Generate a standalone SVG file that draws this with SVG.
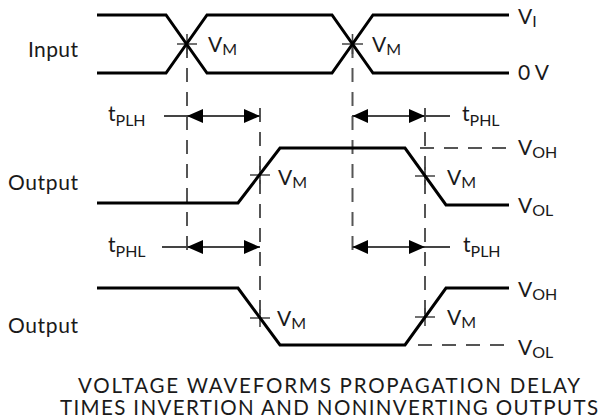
<svg xmlns="http://www.w3.org/2000/svg" width="601" height="420" viewBox="0 0 601 420">
<defs>
<style>
.w{fill:none;stroke:#000;stroke-width:3;stroke-linejoin:miter}
.d{fill:none;stroke:#555;stroke-width:2;stroke-dasharray:14 10}
.t{fill:none;stroke:#444;stroke-width:1.6}
.a{fill:none;stroke:#444;stroke-width:2}
.h{fill:#000}
text{font-family:Lato,"Liberation Sans",sans-serif;fill:#1a1a1a;font-size:21px}
.s{font-size:16px}
.cap{font-size:20.5px}
</style>
</defs>
<rect width="601" height="420" fill="#fff"/>
<g id="connectors">
<line class="d" x1="187" y1="44" x2="187" y2="258"/>
<line class="d" x1="352.5" y1="44" x2="352.5" y2="258"/>
<line class="d" x1="260" y1="108" x2="260" y2="318"/>
<line class="d" x1="425" y1="108" x2="425" y2="318"/>
<line class="d" x1="420" y1="148" x2="509" y2="148"/>
<line class="d" x1="418" y1="345" x2="509" y2="345"/>
<line class="a" x1="164" y1="116" x2="260" y2="116"/>
<line class="a" x1="352" y1="116" x2="450" y2="116"/>
<line class="a" x1="162" y1="247" x2="260" y2="247"/>
<line class="a" x1="352" y1="247" x2="450" y2="247"/>
<path class="h" d="M187,116 L203,109 L203,123 Z M260,116 L244,109 L244,123 Z"/>
<path class="h" d="M352.5,116 L368,109 L368,123 Z M425,116 L409,109 L409,123 Z"/>
<path class="h" d="M187,247 L203,240 L203,254 Z M260,247 L244,240 L244,254 Z"/>
<path class="h" d="M352.5,247 L368,240 L368,254 Z M425,247 L409,240 L409,254 Z"/>
<path class="t" d="M177,44 H197 M187,34 V54 M342,44 H363 M352.5,34 V54"/>
<path class="t" d="M250,175 H270 M260,166 V184 M415,176 H435 M425,167 V185"/>
<path class="t" d="M250,318 H270 M260,309 V327 M415,317 H435 M425,308 V326"/>
</g>
<g id="input">
<path class="w" d="M97,15 H166 L207,73 H332 L373,15 H509"/>
<path class="w" d="M97,73 H166 L207,15 H332 L373,73 H509"/>
<text x="28" y="57" textLength="50">Input</text>
<text x="208" y="52">V<tspan class="s" dy="3">M</tspan></text>
<text x="372" y="52">V<tspan class="s" dy="3">M</tspan></text>
<text x="518" y="24">V<tspan class="s" dy="3">I</tspan></text>
<text x="518" y="80">0 V</text>
</g>
<g id="output1">
<path class="w" d="M97,203 H238 L280,148 H405 L446,205 H509"/>
<text x="8" y="190" textLength="70">Output</text>
<text x="278" y="185">V<tspan class="s" dy="3">M</tspan></text>
<text x="447" y="185">V<tspan class="s" dy="3">M</tspan></text>
<text x="518" y="155">V<tspan class="s" dy="3">OH</tspan></text>
<text x="518" y="213">V<tspan class="s" dy="3">OL</tspan></text>
</g>
<g id="output2">
<path class="w" d="M97,288 H238 L280,345 H405 L446,288 H509"/>
<text x="8" y="333" textLength="70">Output</text>
<text x="277" y="326">V<tspan class="s" dy="3">M</tspan></text>
<text x="447" y="325">V<tspan class="s" dy="3">M</tspan></text>
<text x="518" y="297">V<tspan class="s" dy="3">OH</tspan></text>
<text x="518" y="355">V<tspan class="s" dy="3">OL</tspan></text>
</g>
<g id="timing-labels">
<text x="108" y="121">t<tspan class="s" dy="5">PLH</tspan></text>
<text x="462" y="121">t<tspan class="s" dy="5">PHL</tspan></text>
<text x="108" y="252">t<tspan class="s" dy="5">PHL</tspan></text>
<text x="463" y="252">t<tspan class="s" dy="5">PLH</tspan></text>
</g>
<g id="caption">
<text class="cap" x="78" y="393" textLength="502" lengthAdjust="spacing">VOLTAGE WAVEFORMS PROPAGATION DELAY</text>
<text class="cap" x="60" y="415" textLength="538" lengthAdjust="spacing">TIMES INVERTION AND NONINVERTING OUTPUTS</text>
</g>
</svg>
